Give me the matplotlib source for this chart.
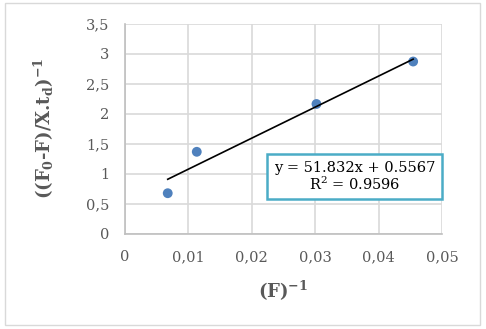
import matplotlib
matplotlib.use("Agg")
import matplotlib.pyplot as plt
import numpy as np
from matplotlib.patches import Rectangle

x_vals = [0.00674, 0.01132, 0.0302, 0.04545]
y_vals = [0.673, 1.365, 2.164, 2.873]
slope = 51.832
intercept = 0.5567
eq_text = "y = 51.832x + 0.5567\nR$^2$ = 0.9596"
x_ticks = [0, 0.01, 0.02, 0.03, 0.04, 0.05]
x_ticklabels = ["0", "0,01", "0,02", "0,03", "0,04", "0,05"]
y_ticks = [0, 0.5, 1, 1.5, 2, 2.5, 3, 3.5]
y_ticklabels = ["0", "0,5", "1", "1,5", "2", "2,5", "3", "3,5"]

plt.rcParams['font.family'] = ['DejaVu Serif']
plt.rcParams['mathtext.fontset'] = 'dejavuserif'

fig = plt.figure(figsize=(4.86, 3.29), dpi=100)
fig.patches.append(Rectangle((5/486, 1 - 325/329), 475/486, 322/329, transform=fig.transFigure,
                             fill=False, edgecolor='#D9D9D9', lw=1.0))
ax = fig.add_axes([125/486, 1 - 233.5/329, 317/486, 209.5/329])

ax.set_xlim(0, 0.05)
ax.set_ylim(0, 3.5)
ax.set_xticks(x_ticks)
ax.set_xticklabels(x_ticklabels)
ax.set_yticks(y_ticks)
ax.set_yticklabels(y_ticklabels)
ax.grid(True, color='#D9D9D9', lw=1.2)
ax.set_axisbelow(True)
for s in ax.spines.values():
    s.set_visible(False)
for side in ('left', 'bottom'):
    ax.spines[side].set_visible(True)
    ax.spines[side].set_color('#BFBFBF')
    ax.spines[side].set_linewidth(1.2)
ax.tick_params(length=0, labelsize=10.5, colors='#595959')
ax.tick_params(axis='x', pad=12)
ax.tick_params(axis='y', pad=11)

ax.scatter(x_vals, y_vals, s=50, color='#4F81BD', zorder=3, edgecolors='none')
xl = np.array([min(x_vals), max(x_vals)])
ax.plot(xl, slope * xl + intercept, color='black', lw=1.2, zorder=4)

ax.text(0.0362, 0.95, eq_text, ha='center', va='center', fontsize=10.5, color='black',
        linespacing=1.05, zorder=5,
        bbox=dict(boxstyle='square,pad=0.45', facecolor='white', edgecolor='#4BACC6', lw=1.8))

ax.set_xlabel(r"(F)$^{\mathbf{-1}}$", fontsize=13, fontweight='bold', color='#595959', labelpad=11)
ax.set_ylabel(r"((F$_{\mathbf{0}}$-F)/X.t$_{\mathbf{d}}$)$^{\mathbf{-1}}$", fontsize=13,
              fontweight='bold', color='#595959', labelpad=22)

fig.savefig("out.png", dpi=100)
